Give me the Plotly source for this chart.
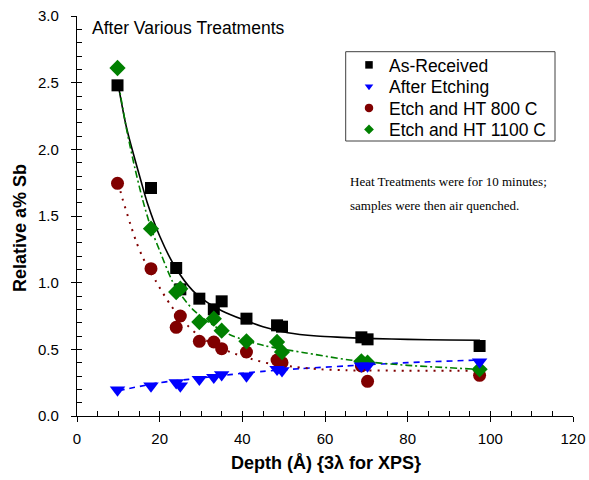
import plotly.graph_objects as go

# ---- data ----
depth = [9.8, 17.9, 24.0, 25.0, 29.6, 33.1, 35.0, 41.0, 48.4, 49.6, 68.8, 70.3, 97.4]
as_received = [2.48, 1.71, 1.11, 0.95, 0.88, 0.80, 0.86, 0.73, 0.68, 0.67, 0.59, 0.575, 0.525]
after_etching = [0.195, 0.225, 0.25, 0.225, 0.275, 0.29, 0.31, 0.30, 0.35, 0.34, 0.375, 0.375, 0.405]
etch_ht800 = [1.745, 1.105, 0.665, 0.75, 0.56, 0.555, 0.505, 0.48, 0.42, 0.40, 0.375, 0.26, 0.305]
etch_ht1100 = [2.61, 1.405, 0.93, 0.955, 0.705, 0.73, 0.64, 0.56, 0.555, 0.48, 0.41, 0.40, 0.35]

# fitted curves
black_fit_x = [10, 12, 15.5, 17, 20, 23.6, 28, 31.6, 35, 40, 45, 51, 58, 64, 72, 80, 90, 97.5]
black_fit_y = [2.48, 2.16, 1.76, 1.60, 1.35, 1.125, 0.94, 0.85, 0.79, 0.725, 0.67, 0.625, 0.60, 0.59, 0.58, 0.575, 0.57, 0.568]
green_fit_x = [10, 12, 14, 15.9, 18, 20, 23.6, 28, 32, 37, 45, 55, 66, 80, 97.5]
green_fit_y = [2.50, 2.15, 1.86, 1.62, 1.40, 1.24, 0.98, 0.80, 0.70, 0.61, 0.53, 0.475, 0.42, 0.38, 0.35]
red_fit_x = [10, 11, 12.9, 14.3, 15.9, 19.1, 22.8, 26.4, 29.6, 34, 38.1, 42.5, 47, 52.2, 59, 65, 80, 97.5]
red_fit_y = [1.745, 1.63, 1.44, 1.31, 1.19, 1.01, 0.825, 0.69, 0.60, 0.52, 0.468, 0.425, 0.39, 0.37, 0.35, 0.343, 0.34, 0.34]
blue_fit_x = [10, 14, 20, 27, 37, 45, 54, 65, 80, 97.5]
blue_fit_y = [0.19, 0.215, 0.25, 0.275, 0.31, 0.335, 0.355, 0.375, 0.40, 0.42]

series_names = ["As-Received", "After Etching", "Etch and HT 800 C", "Etch and HT 1100 C"]
x_ticks = [0, 20, 40, 60, 80, 100, 120]
y_ticks = [0.0, 0.5, 1.0, 1.5, 2.0, 2.5, 3.0]

BLACK, BLUE, RED, GREEN = "#000000", "#0000ff", "#800000", "#008000"
FONT = "Arial, 'Liberation Sans', sans-serif"
SERIF = "'Times New Roman', 'Liberation Serif', serif"

# plot area geometry (pixels) used to place text in paper coordinates
W, H = 589, 480
L, R, T, B = 77, 16, 16, 64
PW, PH = W - L - R, H - T - B


def px(xp):
    return (xp - L) / PW


def py(yp):
    return (H - B - yp) / PH


fig = go.Figure()

# fit lines
fig.add_trace(go.Scatter(x=black_fit_x, y=black_fit_y, mode="lines", showlegend=False,
                         line=dict(color=BLACK, width=1.6, shape="spline", smoothing=0.8)))
fig.add_trace(go.Scatter(x=blue_fit_x, y=blue_fit_y, mode="lines", showlegend=False,
                         line=dict(color=BLUE, width=1.6, dash="6px,5px", shape="spline", smoothing=0.8)))
fig.add_trace(go.Scatter(x=red_fit_x, y=red_fit_y, mode="lines", showlegend=False,
                         line=dict(color=RED, width=2, dash="2px,6px", shape="spline", smoothing=0.8)))
fig.add_trace(go.Scatter(x=green_fit_x, y=green_fit_y, mode="lines", showlegend=False,
                         line=dict(color=GREEN, width=1.6, dash="7px,3px,2px,3px", shape="spline", smoothing=0.8)))

# markers
specs = [
    (as_received, BLACK, "square", 12),
    (etch_ht800, RED, "circle", 13),
    (etch_ht1100, GREEN, "diamond", 12.5),
    (after_etching, BLUE, "triangle-down", 13.5),
]
for vals, col, sym, sz in specs:
    fig.add_trace(go.Scatter(x=depth, y=vals, mode="markers", showlegend=False,
                             marker=dict(color=col, symbol=sym, size=sz, line=dict(width=0))))

# legend entries: one single-item legend per row so the row spacing matches
leg = [(BLACK, "square", 7.5), (BLUE, "triangle-down", 7.5), (RED, "circle", 8.5), (GREEN, "diamond", 7.5)]
row_y = [65, 86.5, 108, 129.5]
legend_ids = ["legend", "legend2", "legend3", "legend4"]
legend_layout = {}
for name, (col, sym, sz), lid, yc in zip(series_names, leg, legend_ids, row_y):
    fig.add_trace(go.Scatter(x=[None], y=[None], mode="markers", name=name, legend=lid,
                             marker=dict(color=col, symbol=sym, size=sz, line=dict(width=0))))
    legend_layout[lid] = dict(x=px(349), y=py(yc), xanchor="left", yanchor="middle",
                              bgcolor="rgba(0,0,0,0)", borderwidth=0,
                              font=dict(size=17.5, family=FONT, color="black"))

# dummy trace for inside-tick overlay axes
fig.add_trace(go.Scatter(x=[None], y=[None], xaxis="x2", yaxis="y2", showlegend=False, hoverinfo="skip"))

fig.update_layout(
    width=W, height=H,
    margin=dict(l=L, r=R, t=T, b=B),
    paper_bgcolor="white", plot_bgcolor="white",
    font=dict(family=FONT, size=15, color="black"),
    xaxis=dict(range=[0, 120], tickvals=x_ticks, ticktext=[str(v) for v in x_ticks],
               ticks="outside", ticklen=5, tickwidth=1, tickcolor="black", automargin=False,
               showline=True, linecolor="black", linewidth=1.2, showgrid=False, zeroline=False,
               tickfont=dict(size=15, family=FONT), ticklabelstandoff=4),
    yaxis=dict(range=[0, 3], tickvals=y_ticks, ticktext=[f"{v:.1f}" for v in y_ticks],
               ticks="outside", ticklen=5, tickwidth=1, tickcolor="black", automargin=False,
               showline=True, linecolor="black", linewidth=1.2, showgrid=False, zeroline=False,
               tickfont=dict(size=15, family=FONT), ticklabelstandoff=9),
    xaxis2=dict(range=[0, 120], overlaying="x", anchor="y", side="bottom", dtick=5, tick0=0,
                ticks="inside", ticklen=5, tickwidth=1, tickcolor="black", automargin=False,
                showticklabels=False, showline=False, showgrid=False, zeroline=False),
    yaxis2=dict(range=[0, 3], overlaying="y", anchor="x", side="left", dtick=0.1, tick0=0,
                ticks="inside", ticklen=5, tickwidth=1, tickcolor="black", automargin=False,
                showticklabels=False, showline=False, showgrid=False, zeroline=False),
    shapes=[dict(type="rect", xref="paper", yref="paper",
                 x0=px(345.7), x1=px(555), y0=py(141), y1=py(51.7),
                 line=dict(color="#404040", width=1), fillcolor="rgba(0,0,0,0)")],
    annotations=[
        dict(text="After Various Treatments", xref="paper", yref="paper", x=px(90), y=py(28),
             xanchor="left", yanchor="middle", showarrow=False, font=dict(size=17.5, family=FONT)),
        dict(text="Heat Treatments were for 10 minutes;", xref="paper", yref="paper",
             x=px(347.5), y=py(181), xanchor="left", yanchor="middle", showarrow=False,
             font=dict(size=13, family=SERIF)),
        dict(text="samples were then air quenched.", xref="paper", yref="paper",
             x=px(347.5), y=py(205), xanchor="left", yanchor="middle", showarrow=False,
             font=dict(size=13, family=SERIF)),
        dict(text="<b>Depth (Å) {3λ for XPS}</b>", xref="paper", yref="paper",
             x=px(326), y=py(463), xanchor="center", yanchor="middle", showarrow=False,
             font=dict(size=18, family=FONT)),
        dict(text="<b>Relative a% Sb</b>", xref="paper", yref="paper", textangle=-90,
             x=px(20), y=py(228), xanchor="center", yanchor="middle", showarrow=False,
             font=dict(size=18, family=FONT)),
    ],
    **legend_layout,
)

fig.write_html("out.html", config={"displayModeBar": False},
               post_script="document.body.style.margin='0';")
